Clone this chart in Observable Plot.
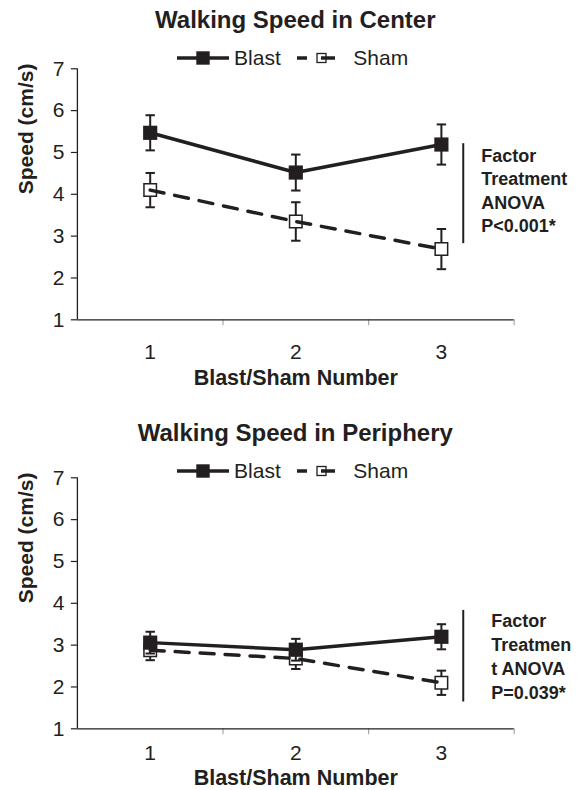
<!DOCTYPE html>
<html>
<head>
<meta charset="utf-8">
<script src="https://cdn.jsdelivr.net/npm/d3@7"></script>
<script src="https://cdn.jsdelivr.net/npm/@observablehq/plot@0.6"></script>
<style>
  html, body { margin: 0; padding: 0; background: #fff; }
  #root { position: relative; width: 582px; height: 790px; overflow: hidden; font-family: "Liberation Sans", Arial, sans-serif; color: #231f20; }
  .panel { position: absolute; left: 0; }
  .title { position: absolute; left: 76.9px; width: 436.8px; text-align: center; white-space: nowrap; line-height: 26px; font-weight: bold; font-size: 24px; }
  .legend { position: absolute; left: 74.4px; width: 436.8px; height: 26px; display: flex; justify-content: center; align-items: center; font-size: 21px; line-height: 26px; white-space: nowrap; }
  .legend svg { display: block; }
</style>
</head>
<body>
<div id="root"></div>
<script>
// ---- data ----
const categories = [1, 2, 3];
const series = ["Blast", "Sham"];
const titles = ["Walking Speed in Center", "Walking Speed in Periphery"];
const yTicks = [1, 2, 3, 4, 5, 6, 7];
const xLabel = "Blast/Sham Number";
const yLabel = "Speed (cm/s)";

const centerBlast = [5.47, 4.52, 5.19];
const centerBlastErr = [0.42, 0.43, 0.48];
const centerSham = [4.10, 3.35, 2.69];
const centerShamErr = [0.41, 0.46, 0.48];

const periBlast = [3.06, 2.89, 3.20];
const periBlastErr = [0.26, 0.26, 0.30];
const periSham = [2.88, 2.68, 2.10];
const periShamErr = [0.24, 0.25, 0.29];

const centerNote = "Factor\nTreatment\nANOVA\nP<0.001*";
const periNote = "Factor\nTreatmen\nt ANOVA\nP=0.039*";

// ---- style ----
const INK = "#231f20";
const FONT = '"Liberation Sans", Arial, sans-serif';
const capSymbol = {
  draw(ctx, size) { const w = Math.sqrt(size / Math.PI); ctx.moveTo(-w, 0); ctx.lineTo(w, 0); }
};

function rows(vals, errs, s) {
  return categories.map((c, i) => ({x: c, y: vals[i], lo: vals[i] - errs[i], hi: vals[i] + errs[i], s}));
}

function errMarks(D) {
  return [
    Plot.ruleX(D, {x: "x", y1: "lo", y2: "hi", stroke: INK, strokeWidth: 2}),
    Plot.dot(D, {x: "x", y: "hi", symbol: capSymbol, r: 4.7, fill: "none", stroke: INK, strokeWidth: 2}),
    Plot.dot(D, {x: "x", y: "lo", symbol: capSymbol, r: 4.7, fill: "none", stroke: INK, strokeWidth: 2})
  ];
}

function panel(o) {
  const B = rows(o.blast, o.blastErr, series[0]);
  const S = rows(o.sham, o.shamErr, series[1]);
  return Plot.plot({
    width: 582, height: 395,
    marginTop: o.marginTop, marginBottom: o.marginBottom, marginLeft: 76.9, marginRight: 68.3,
    x: {type: "linear", domain: [0.5, 3.5]},
    y: {domain: [1, 7]},
    style: {fontFamily: FONT, color: INK, background: "transparent", overflow: "visible"},
    marks: [
      Plot.axisY({ticks: yTicks, tickSize: 6, tickPadding: 7, fontSize: 21, stroke: INK, strokeWidth: 1.2, label: null, tickFormat: d => String(d)}),
      Plot.axisX({ticks: [1.5, 2.5, 3.5], tickSize: 6, tickFormat: () => "", stroke: "#a8a8a8", strokeWidth: 1.2, label: null}),
      Plot.axisX({ticks: categories, tickSize: 0, tickPadding: o.tickPad, fontSize: 21, label: null, tickFormat: d => String(d)}),
      Plot.ruleX([0.5], {stroke: INK, strokeWidth: 1.3}),
      Plot.ruleY([1], {stroke: INK, strokeWidth: 1.3}),
      Plot.text([xLabel], {frameAnchor: "bottom", dy: o.xLabelDy, fontWeight: "bold", fontSize: 21.5, lineAnchor: "middle", fill: INK}),
      Plot.text([yLabel], {frameAnchor: "left", dx: -50.9, rotate: -90, fontWeight: "bold", fontSize: 21, lineAnchor: "middle", fill: INK}),
      // Sham
      ...errMarks(S),
      Plot.dot(S, {x: "x", y: "y", symbol: "square", r: 7.05, fill: "white", stroke: INK, strokeWidth: 1.5}),
      Plot.line(S, {x: "x", y: "y", stroke: INK, strokeWidth: 3.5, strokeDasharray: "14,11"}),
      // Blast
      ...errMarks(B),
      Plot.line(B, {x: "x", y: "y", stroke: INK, strokeWidth: 3.5}),
      Plot.dot(B, {x: "x", y: "y", symbol: "square", r: 8, fill: INK, stroke: "none"}),
      // annotation
      Plot.ruleX([o.ann.x], {y1: o.ann.y1, y2: o.ann.y2, stroke: INK, strokeWidth: 2}),
      Plot.text([o.note], {x: o.ann.x, y: o.ann.ty, dx: o.ann.dx, textAnchor: "start", lineAnchor: "middle", fontWeight: "bold", fontSize: 18, lineHeight: o.ann.lh, fill: INK})
    ]
  });
}

function legend(top) {
  const d = document.createElement("div");
  d.className = "legend";
  d.style.top = top + "px";
  d.innerHTML =
    `<svg width="52" height="26"><line x1="0" x2="52" y1="13" y2="13" stroke="${INK}" stroke-width="3.5"/>` +
    `<rect x="19.3" y="6.3" width="13.4" height="13.4" fill="${INK}"/></svg>` +
    `<span style="margin-left:4.7px">${series[0]}</span>` +
    `<svg width="38.3" height="26" style="margin-left:16px"><line x1="0" x2="10" y1="13" y2="13" stroke="${INK}" stroke-width="3.5"/>` +
    `<line x1="24" x2="38.3" y1="13" y2="13" stroke="${INK}" stroke-width="3.5"/>` +
    `<rect x="20" y="8.5" width="9" height="9" fill="none" stroke="${INK}" stroke-width="1.3"/></svg>` +
    `<span style="margin-left:18.3px">${series[1]}</span>`;
  return d;
}

const root = document.getElementById("root");

const p1 = document.createElement("div");
p1.className = "panel"; p1.style.top = "0px";
p1.append(panel({
  blast: centerBlast, blastErr: centerBlastErr, sham: centerSham, shamErr: centerShamErr,
  marginTop: 68.3, marginBottom: 75.7, tickPad: 24, xLabelDy: 58.5,
  ann: {x: 3.15, y1: 5.21, y2: 2.82, ty: 4.11, dx: 18, lh: 1.3}, note: centerNote
}));
root.append(p1);

const p2 = document.createElement("div");
p2.className = "panel"; p2.style.top = "395px";
p2.append(panel({
  blast: periBlast, blastErr: periBlastErr, sham: periSham, shamErr: periShamErr,
  marginTop: 82.3, marginBottom: 61.7, tickPad: 16, xLabelDy: 49.7,
  ann: {x: 3.15, y1: 3.83, y2: 1.64, ty: 2.76, dx: 28, lh: 1.34}, note: periNote
}));
root.append(p2);

[[titles[0], 7], [titles[1], 420.3]].forEach(([t, top]) => {
  const d = document.createElement("div");
  d.className = "title"; d.style.top = top + "px"; d.textContent = t;
  root.append(d);
});
root.append(legend(44.5));
root.append(legend(457.7));
</script>
</body>
</html>
